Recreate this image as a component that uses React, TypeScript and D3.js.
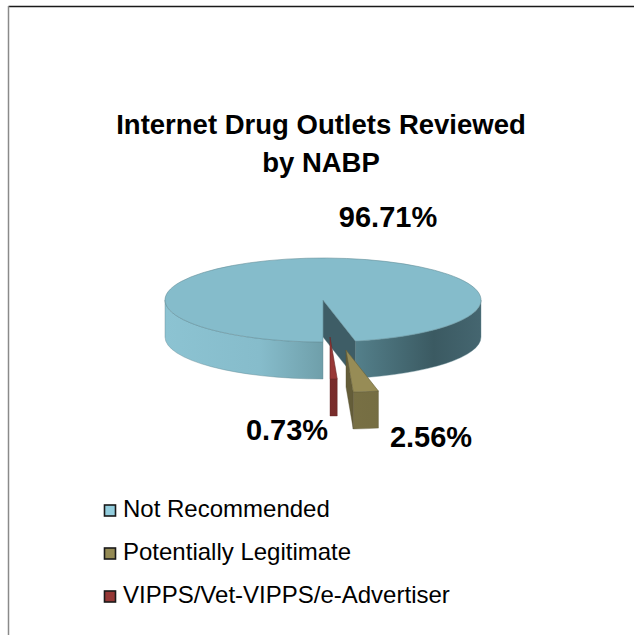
import React from "react";
import * as d3 from "d3";

const categories = ["Not Recommended", "Potentially Legitimate", "VIPPS/Vet-VIPPS/e-Advertiser"];
const values = [96.71, 2.56, 0.73];
const valueLabels = ["96.71%", "2.56%", "0.73%"];
const colors = ["#93CDDD", "#948A54", "#953735"];
const titleLines = ["Internet Drug Outlets Reviewed", "by NABP"];

const W = 634;
const H = 635;
const cx = 323;
const cy = 300;
const rx = 158;
const ry = 42;
const depth = 37;
const explode = [
  [0, 0],
  [23, 50],
  [7, 37],
];
const labelPos = [
  [388, 227],
  [431, 447],
  [287, 440],
];
const FONT = "'Liberation Sans', Arial, Helvetica, sans-serif";

function pt(a: number, ox: number, oy: number, dy = 0): [number, number] {
  return [cx + ox + rx * Math.sin(a), cy + oy + dy - ry * Math.cos(a)];
}

function frontRanges(a0: number, a1: number): [number, number][] {
  const out: [number, number][] = [];
  for (let k = -1; k <= 2; k++) {
    const s = Math.PI / 2 + 2 * k * Math.PI;
    const e = (3 * Math.PI) / 2 + 2 * k * Math.PI;
    const lo = Math.max(s, a0);
    const hi = Math.min(e, a1);
    if (hi > lo + 1e-6) out.push([lo, hi]);
  }
  return out;
}

export default function App() {
  const pie = d3
    .pie<number>()
    .sort(null)
    .startAngle(Math.PI)
    .endAngle(3 * Math.PI)
    .value((d) => d);
  const arcs = pie(values);

  const slices = arcs.map((a, i) => {
    const [ox, oy] = explode[i];
    const base = d3.color(colors[i])!;
    const a0 = a.startAngle;
    const a1 = a.endAngle;
    const large = a1 - a0 > Math.PI ? 1 : 0;
    const c = [cx + ox, cy + oy];
    const s = pt(a0, ox, oy);
    const e = pt(a1, ox, oy);
    const top = `M${c[0]},${c[1]} L${s[0]},${s[1]} A${rx},${ry} 0 ${large} 1 ${e[0]},${e[1]} Z`;
    const walls = frontRanges(a0, a1).map(([lo, hi]) => {
      const t0 = pt(lo, ox, oy);
      const t1 = pt(hi, ox, oy);
      const b1 = pt(hi, ox, oy, depth);
      const b0 = pt(lo, ox, oy, depth);
      const lg = hi - lo > Math.PI ? 1 : 0;
      return `M${t0[0]},${t0[1]} A${rx},${ry} 0 ${lg} 1 ${t1[0]},${t1[1]} L${b1[0]},${b1[1]} A${rx},${ry} 0 ${lg} 0 ${b0[0]},${b0[1]} Z`;
    });
    const faces: string[] = [];
    const face = (ang: number) => {
      const p = pt(ang, ox, oy);
      const pb = pt(ang, ox, oy, depth);
      return `M${c[0]},${c[1]} L${p[0]},${p[1]} L${pb[0]},${pb[1]} L${c[0]},${c[1] + depth} Z`;
    };
    if (-Math.sin(a0) > 0.02) faces.push(face(a0));
    if (Math.sin(a1) > 0.02) faces.push(face(a1));
    return { i, base, top, walls, faces, ox };
  });

  return (
    <svg
      width={W}
      height={H}
      style={{ position: "absolute", left: 0, top: 0, background: "#fff" }}
      xmlns="http://www.w3.org/2000/svg"
    >
      <defs>
        {slices.map((s) => (
          <linearGradient
            key={s.i}
            id={`wall${s.i}`}
            gradientUnits="userSpaceOnUse"
            x1={cx + s.ox - rx}
            x2={cx + s.ox + rx}
            y1={0}
            y2={0}
          >
            {s.i === 0 ? (
              <>
                <stop offset="0" stopColor="#8cc3d2" />
                <stop offset="0.3" stopColor="#86bccb" />
                <stop offset="0.5" stopColor="#6f9faa" />
                <stop offset="0.6" stopColor="#54808b" />
                <stop offset="0.85" stopColor="#3b5a62" />
                <stop offset="1" stopColor="#456670" />
              </>
            ) : (
              <>
                <stop offset="0" stopColor={s.base.darker(0.3).formatHex()} />
                <stop offset="1" stopColor={s.base.darker(0.9).formatHex()} />
              </>
            )}
          </linearGradient>
        ))}
      </defs>

      <line x1={8.5} y1={6.5} x2={W} y2={6.5} stroke="#1a1a1a" strokeWidth={1.5} />
      <line x1={8.5} y1={6} x2={8.5} y2={H} stroke="#8a8a8a" strokeWidth={1.5} />

      {titleLines.map((t, i) => (
        <text
          key={i}
          x={321}
          y={134 + i * 38}
          textAnchor="middle"
          fontFamily={FONT}
          fontWeight="bold"
          fontSize={27.5}
          fill="#000"
        >
          {t}
        </text>
      ))}

      {slices.map((s) => (
        <g key={s.i}>
          {s.walls.map((w, j) => (
            <path key={j} d={w} fill={`url(#wall${s.i})`} stroke={s.base.darker(1.2).formatHex()} strokeWidth={0.4} />
          ))}
          {s.faces.map((f, j) => (
            <path
              key={j}
              d={f}
              fill={s.i === 0 ? "#3e5d66" : s.base.darker(1.1).formatHex()}
              stroke={s.base.darker(1.5).formatHex()}
              strokeWidth={0.4}
            />
          ))}
          <path
            d={s.top}
            fill={s.i === 0 ? "#85bccb" : s.base.brighter(0.05).formatHex()}
            stroke={s.base.darker(1.0).formatHex()}
            strokeWidth={0.6}
          />
        </g>
      ))}

      {valueLabels.map((l, i) => (
        <text
          key={i}
          x={labelPos[i][0]}
          y={labelPos[i][1]}
          textAnchor="middle"
          fontFamily={FONT}
          fontWeight="bold"
          fontSize={29}
          fill="#000"
        >
          {l}
        </text>
      ))}

      {categories.map((c, i) => (
        <g key={c} transform={`translate(104, ${505 + i * 43})`}>
          <rect x={0.5} y={0} width={11} height={11} fill={colors[i]} stroke="#1a1a1a" strokeWidth={1.6} />
          <text x={19} y={12} fontFamily={FONT} fontSize={24} fill="#000">
            {c}
          </text>
        </g>
      ))}
    </svg>
  );
}
